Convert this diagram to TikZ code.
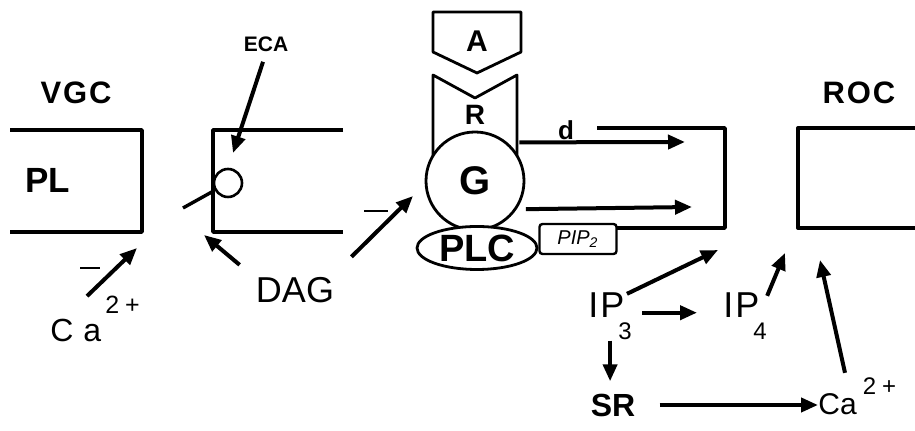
\documentclass[tikz,border=0pt]{standalone}
\usepackage{fontspec}
\setmainfont{Liberation Sans}
\usetikzlibrary{positioning,shapes,arrows.meta,calc}

\begin{document}
\begin{tikzpicture}[x=0.5pt, y=-0.5pt]
\tikzset{
    membrane/.style={line width=1.7pt, line join=round},
    arrow/.style={-{Triangle[length=8.5pt, width=7pt]}, line width=2pt},
    tag/.style={inner sep=0pt, font=\bfseries\fontsize{15.5}{15.5}\selectfont\addfontfeatures{LetterSpace=6}},
    species/.style={inner sep=0pt, font=\fontsize{18}{18}\selectfont},
    minus/.style={inner sep=0pt}
}
\useasboundingbox (0,0) rectangle (915,431);

\draw[membrane] (10,130) -- (142,130) -- (142,232) -- (10,232);
\draw[membrane] (343,130) -- (213,130) -- (213,232) -- (343,232);
\draw[membrane] (597,128) -- (725,128) -- (725,228) -- (617,228);
\draw[membrane] (915,128) -- (798,128) -- (798,228) -- (915,228);

\draw[membrane, line width=1.4pt] (433,12) -- (521,12) -- (521,52) -- (477,73) -- (433,52) -- cycle;
\draw[membrane, line width=1.4pt] (433,160) -- (433,75) -- (475,98) -- (517,75) -- (517,160);
\node[circle, draw, fill=white, line width=1.4pt, minimum size=49pt, inner sep=0pt, font=\bfseries\fontsize{20}{20}\selectfont] (G) at (475,181) {G};
\node[ellipse, draw, fill=white, line width=1.4pt, minimum width=60pt, minimum height=21.5pt, inner sep=0pt, font=\bfseries\fontsize{19}{19}\selectfont] (plc) at (477,248) {PLC};
\node[draw, line width=1.2pt, rounded corners=1.5pt, minimum width=38.5pt, minimum height=15pt, inner sep=0pt, font=\itshape\fontsize{10}{10}\selectfont] (pip2) at (578,239) {PIP\textsubscript{2}};
\node[circle, draw, line width=1.3pt, minimum size=14pt, inner sep=0pt] (pore) at (228,183) {};

\node[tag] (vgc) at (76,93) {VGC};
\node[tag] (roc) at (859,93) {ROC};
\node[tag, font=\bfseries\fontsize{17.5}{17.5}\selectfont] (pl) at (48,180) {PL};
\node[tag, font=\bfseries\fontsize{10.5}{10.5}\selectfont] (eca) at (266,44) {ECA};
\node[tag, font=\bfseries\fontsize{15}{15}\selectfont] (A) at (477,41) {A};
\node[tag, font=\bfseries\fontsize{14}{14}\selectfont] (R) at (475,115) {R};
\node[tag, font=\bfseries\fontsize{13}{13}\selectfont] (dlabel) at (566,130) {d};
\node[species] (dag) at (295,290) {DAG};
\node[species, font=\fontsize{16}{16}\selectfont, anchor=base west] (ca1) at (50,342)
    {C\hspace{5pt}a\hspace{2pt}\raisebox{14pt}{\fontsize{12.5}{12.5}\selectfont 2\hspace{3pt}+}};
\node[species, anchor=base west] (ip3) at (588,318) {I\hspace{1pt}P\hspace{-3pt}\raisebox{-11pt}{\fontsize{12}{12}\selectfont 3}};
\node[species, anchor=base west] (ip4) at (723,318) {I\hspace{1pt}P\hspace{-3pt}\raisebox{-11pt}{\fontsize{12}{12}\selectfont 4}};
\node[tag, font=\bfseries\fontsize{16}{16}\selectfont] (sr) at (613,405) {SR};
\node[species, font=\fontsize{15}{15}\selectfont, anchor=base west] (ca2) at (818,415)
    {Ca\hspace{3pt}\raisebox{10pt}{\fontsize{12}{12}\selectfont 2\hspace{3pt}+}};
\node[minus] (m1) at (90,268) {\rule{10pt}{1.3pt}};
\node[minus] (m2) at (376,211) {\rule{12pt}{1.3pt}};

\coordinate (poreEnd) at (183,208);
\coordinate (ecaTip) at (233,153);
\coordinate (vgcTip) at (137,248);
\coordinate (dagTip1) at (204,235);
\coordinate (dagTip2) at (413,196);
\coordinate (dTip) at (685,142);
\coordinate (pipTip) at (692,207);
\coordinate (ip3Tip) at (718,250);
\coordinate (ip4Tip) at (785,253);
\coordinate (ca2Tip) at (820,260);

\draw[membrane] (poreEnd) -- (pore);
\draw[arrow] (eca.south) ++(-3,10) -- (ecaTip);
\draw[arrow] (ca1.north west) ++(37,0) -- (vgcTip);
\draw[arrow] (dag.north west) ++(-16,-12) -- (dagTip1);
\draw[arrow] (dag.north east) ++(17,-20) -- (dagTip2);
\draw[arrow] (G.50) ++(12,0) -- (dTip);
\draw[arrow] (G.-34) ++(9,0) -- (pipTip);
\draw[arrow] (ip3.north west) ++(39,1) -- (ip3Tip);
\draw[arrow, shorten <=5pt, shorten >=13pt] (ip3.mid east) -- (ip4.mid west);
\draw[arrow, shorten >=6pt] (ip3.south) -- (ip3.south |- sr.north);
\draw[arrow] (ip4.north east) ++(0,3) -- (ip4Tip);
\draw[arrow] (ca2.north west) ++(27,-5) -- (ca2Tip);
\draw[arrow, shorten <=12pt] (sr.east) -- (sr.east -| ca2.west);
\end{tikzpicture}
\end{document}
